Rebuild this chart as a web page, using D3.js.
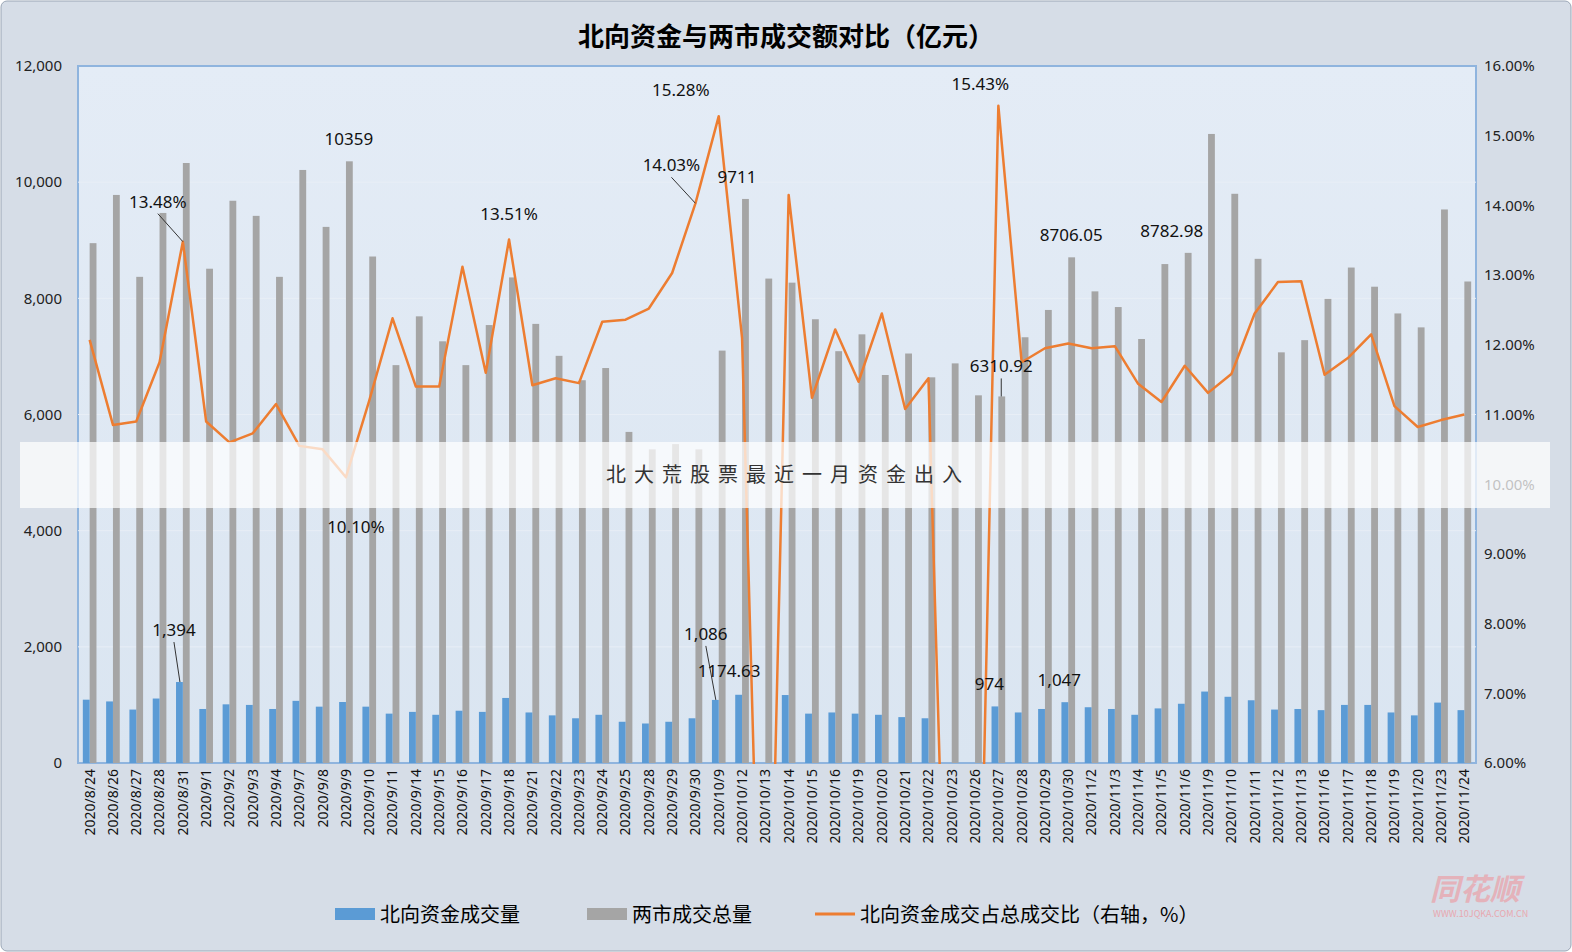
<!DOCTYPE html><html><head><meta charset="utf-8">
<script src="https://cdn.jsdelivr.net/npm/d3@7"></script>
<style>body{margin:0;background:#fff;font-family:"Noto Sans CJK SC","Noto Sans",sans-serif}</style></head><body>
<svg id="c" width="1572" height="952"></svg>
<script>
const dates=["2020/8/24","2020/8/26","2020/8/27","2020/8/28","2020/8/31","2020/9/1","2020/9/2","2020/9/3","2020/9/4","2020/9/7","2020/9/8","2020/9/9","2020/9/10","2020/9/11","2020/9/14","2020/9/15","2020/9/16","2020/9/17","2020/9/18","2020/9/21","2020/9/22","2020/9/23","2020/9/24","2020/9/25","2020/9/28","2020/9/29","2020/9/30","2020/10/9","2020/10/12","2020/10/13","2020/10/14","2020/10/15","2020/10/16","2020/10/19","2020/10/20","2020/10/21","2020/10/22","2020/10/23","2020/10/26","2020/10/27","2020/10/28","2020/10/29","2020/10/30","2020/11/2","2020/11/3","2020/11/4","2020/11/5","2020/11/6","2020/11/9","2020/11/10","2020/11/11","2020/11/12","2020/11/13","2020/11/16","2020/11/17","2020/11/18","2020/11/19","2020/11/20","2020/11/23","2020/11/24"];
const total=[8950,9780,8370,9470,10330,8510,9680,9420,8370,10210,9230,10359,8720,6850,7690,7260,6850,7540,8360,7560,7010,6590,6800,5700,5400,5490,5400,7100,9711,8340,8270,7640,7090,7380,6680,7050,6640,6880,6330,6310.92,7330,7800,8706.05,8120,7850,7300,8590,8782.98,10830,9800,8680,7070,7280,7990,8530,8200,7740,7500,9530,8290];
const north=[1090,1060,920,1110,1394,930,1010,1000,930,1070,970,1050,970,850,880,830,900,880,1120,870,820,770,830,710,680,710,770,1086,1174.63,0,1170,850,870,850,830,790,770,0,0,974,870,930,1047,960,930,830,940,1020,1230,1140,1080,920,930,910,1000,1000,870,820,1040,910];
const pct=[12.07,10.85,10.9,11.75,13.48,10.9,10.6,10.73,11.15,10.55,10.5,10.10,11.2,12.38,11.4,11.4,13.12,11.6,13.51,11.42,11.52,11.45,12.33,12.36,12.52,13.03,14.03,15.28,12.1,0,14.15,11.24,12.22,11.47,12.45,11.08,11.52,0,0,15.43,11.75,11.95,12.02,11.95,11.98,11.44,11.18,11.7,11.31,11.58,12.45,12.9,12.91,11.57,11.81,12.15,11.12,10.82,10.92,11.0];
const leftTicks=[0,2000,4000,6000,8000,10000,12000];
const rightTicks=[6,7,8,9,10,11,12,13,14,15,16];
const legendNames=["北向资金成交量","两市成交总量","北向资金成交占总成交比（右轴，%）"];
const title="北向资金与两市成交额对比（亿元）";

const svg=d3.select("#c");
const defs=svg.append("defs");
const g1=defs.append("linearGradient").attr("id","pg").attr("x1",0).attr("y1",0).attr("x2",0).attr("y2",1);
g1.append("stop").attr("offset","0").attr("stop-color","#e4ecf6");g1.append("stop").attr("offset","1").attr("stop-color","#dae5f1");
const L=78,R=1476,T=66,B=763;
defs.append("clipPath").attr("id","pc").append("rect").attr("x",L).attr("y",T-20).attr("width",R-L).attr("height",B-T+21);
svg.append("rect").attr("x",1).attr("y",1).attr("width",1570).attr("height",950).attr("rx",6).attr("fill","#d6dde7").attr("stroke","#9aa6b6");
svg.append("rect").attr("x",L).attr("y",T).attr("width",R-L).attr("height",B-T).attr("fill","url(#pg)").attr("stroke","#8fb4de").attr("stroke-width",2);
const x=d3.scaleBand().domain(dates).range([L,R]).paddingInner(0.5).paddingOuter(0.25);
const yl=d3.scaleLinear().domain([0,12000]).range([B,T]);
const yr=d3.scaleLinear().domain([6,16]).range([B,T]);
svg.append("g").selectAll("line").data(leftTicks.slice(1,-1)).join("line").attr("x1",L).attr("x2",R).attr("y1",d=>yl(d)).attr("y2",d=>yl(d)).attr("stroke","#e8eef6");
const bw=x.bandwidth();
svg.append("g").selectAll("rect").data(total).join("rect").attr("x",(d,i)=>x(dates[i])+bw/2).attr("width",bw/2+1).attr("y",d=>yl(d)).attr("height",d=>B-yl(d)).attr("fill","#a5a5a5");
svg.append("g").selectAll("rect").data(north).join("rect").attr("x",(d,i)=>x(dates[i])-1).attr("width",bw/2+1).attr("y",d=>yl(d)).attr("height",d=>B-yl(d)).attr("fill","#5b9bd5");
const cx=i=>x(dates[i])+bw/2;
svg.append("path").datum(pct).attr("clip-path","url(#pc)").attr("fill","none").attr("stroke","#ed7d31").attr("stroke-width",2.5).attr("stroke-linejoin","round")
 .attr("d",d3.line().x((d,i)=>cx(i)).y(d=>yr(d)));
const la=d3.axisLeft(yl).tickValues(leftTicks).tickSize(0).tickPadding(16).tickFormat(d3.format(","));
const ga=svg.append("g").attr("transform",`translate(${L},0)`).call(la);ga.select(".domain").remove();
ga.selectAll("text").attr("font-size",15).attr("fill","#222").attr("font-family","Noto Sans");
const ra=d3.axisRight(yr).tickValues(rightTicks).tickSize(0).tickPadding(8).tickFormat(d=>d.toFixed(2)+"%");
const gr=svg.append("g").attr("transform",`translate(${R},0)`).call(ra);gr.select(".domain").remove();
gr.selectAll("text").attr("font-size",15).attr("fill","#222").attr("font-family","Noto Sans");
const bx=d3.axisBottom(x).tickSize(0).tickPadding(0);
const gb=svg.append("g").attr("transform",`translate(0,${B})`).call(bx);gb.select(".domain").remove();
gb.selectAll("text").attr("font-size",14).attr("fill","#111").attr("font-family","Noto Sans").attr("text-anchor","end").attr("dy","0.35em").attr("transform","translate(0,6) rotate(-90)");
svg.append("text").attr("x",786).attr("y",46).attr("text-anchor","middle").attr("font-size",26).attr("font-weight","bold").text(title);
function ann(ser,i,dx,dy,txt,lead){
 const v=ser==="p"?yr(pct[i]):ser==="t"?yl(total[i]):yl(north[i]);
 const px=cx(i)+(ser==="n"?-bw/4:ser==="t"?bw/4:0);
 if(lead) svg.append("line").attr("x1",px).attr("y1",v).attr("x2",px+dx).attr("y2",v+dy+6).attr("stroke","#333");
 svg.append("text").attr("x",px+dx).attr("y",v+dy).attr("text-anchor","middle").attr("font-size",17).attr("font-family","Noto Sans").attr("fill","#111").text(txt);
}
ann("p",4,-25,-34,"13.48%",true);ann("p",11,10,56,"10.10%",false);ann("p",18,0,-20,"13.51%",false);
ann("p",26,-24,-32,"14.03%",true);ann("p",27,-38,-20,"15.28%",false);ann("p",39,-18,-16,"15.43%",false);
ann("t",11,0,-16,"10359");ann("t",28,-8,-16,"9711");ann("t",42,0,-16,"8706.05");ann("t",47,-16,-16,"8782.98");
ann("t",39,0,-24,"6310.92",true);
ann("n",4,-6,-46,"1,394",true);ann("n",27,-10,-60,"1,086",true);ann("n",28,-10,-18,"1174.63");
ann("n",39,-6,-16,"974");ann("n",42,-6,-16,"1,047");
svg.append("rect").attr("x",20).attr("y",442).attr("width",1530).attr("height",66).attr("fill","#fff").attr("opacity",0.72);
svg.append("text").attr("x",788).attr("y",482).attr("text-anchor","middle").attr("font-size",20).attr("letter-spacing",8).attr("fill","#333").text("北大荒股票最近一月资金出入");
const lg=svg.append("g").attr("font-size",20).attr("font-family","Noto Sans CJK SC");
lg.append("rect").attr("x",335).attr("y",908).attr("width",40).attr("height",12).attr("fill","#5b9bd5");
lg.append("text").attr("x",380).attr("y",922).text(legendNames[0]);
lg.append("rect").attr("x",587).attr("y",908).attr("width",40).attr("height",12).attr("fill","#a5a5a5");
lg.append("text").attr("x",632).attr("y",922).text(legendNames[1]);
lg.append("line").attr("x1",815).attr("x2",855).attr("y1",914).attr("y2",914).attr("stroke","#ed7d31").attr("stroke-width",3);
lg.append("text").attr("x",860).attr("y",922).text(legendNames[2]);
svg.append("text").attr("x",1430).attr("y",900).attr("font-size",30).attr("font-style","italic").attr("font-weight","bold").attr("fill","#e8a8b0").attr("opacity",0.8).text("同花顺");
svg.append("text").attr("x",1433).attr("y",917).attr("font-size",9).attr("fill","#e8a8b0").text("WWW.10JQKA.COM.CN");
</script></body></html>
